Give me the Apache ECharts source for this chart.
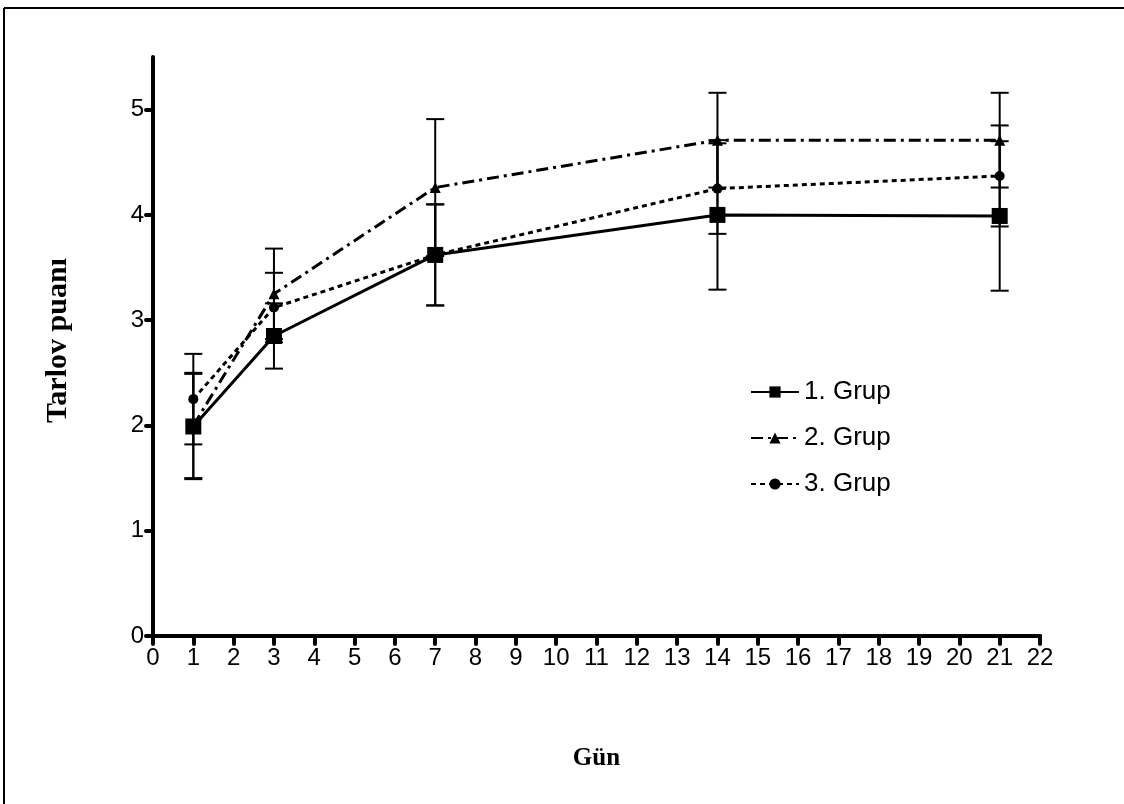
<!DOCTYPE html>
<html>
<head>
<meta charset="utf-8">
<script src="https://cdn.jsdelivr.net/npm/echarts@6/dist/echarts.min.js"></script>
<style>
    html, body { margin: 0; padding: 0; background: #fff; }
    #chart { width: 1124px; height: 804px; }
</style>
</head>
<body>
<div id="chart"></div>
<script>
    // günler
    const days = [1, 3, 7, 14, 21];
    const xTicks = [0, 1, 2, 3, 4, 5, 6, 7, 8, 9, 10, 11, 12, 13, 14, 15, 16, 17, 18, 19, 20, 21, 22];
    const yTicks = [0, 1, 2, 3, 4, 5];

    // ortalama ve hata değerleri
    const grup1 = [1.99, 2.85, 3.62, 4.00, 3.99];
    const grup1Err = [0.50, 0.31, 0.48, 0.71, 0.71];
    const grup2 = [2.00, 3.25, 4.26, 4.71, 4.71];
    const grup2Err = [0.50, 0.43, 0.65, 0.45, 0.45];
    const grup3 = [2.25, 3.12, 3.62, 4.25, 4.37];
    const grup3Err = [0.43, 0.33, 0.48, 0.43, 0.48];

    const names = ['1. Grup', '2. Grup', '3. Grup'];

    const toPoints = (vals) => days.map((d, i) => [d, vals[i]]);
    const toBars = (vals, errs) => days.map((d, i) => [d, vals[i] - errs[i], vals[i] + errs[i]]);

    // hata çubuğu
    const renderErr = (params, api) => {
        const top = api.coord([api.value(0), api.value(2)]);
        const bot = api.coord([api.value(0), api.value(1)]);
        const cap = 9;
        const style = { stroke: '#000', lineWidth: 2 };
        return {
            type: 'group',
            children: [
                { type: 'line', shape: { x1: top[0], y1: top[1], x2: bot[0], y2: bot[1] }, style },
                { type: 'line', shape: { x1: top[0] - cap, y1: top[1], x2: top[0] + cap, y2: top[1] }, style },
                { type: 'line', shape: { x1: bot[0] - cap, y1: bot[1], x2: bot[0] + cap, y2: bot[1] }, style }
            ]
        };
    };

    const errSeries = (vals, errs) => ({
        type: 'custom',
        renderItem: renderErr,
        data: toBars(vals, errs),
        encode: { x: 0, y: [1, 2] },
        silent: true,
        z: 1
    });

    const lineSeries = (name, vals, symbol, size, dash) => ({
        name,
        type: 'line',
        data: toPoints(vals),
        symbol,
        symbolSize: size,
        showAllSymbol: true,
        animation: false,
        itemStyle: { color: '#000' },
        lineStyle: { color: '#000', width: 3, type: dash },
        z: 3
    });

    const option = {
        backgroundColor: '#fff',
        animation: false,
        textStyle: { fontFamily: 'Liberation Sans', color: '#000' },
        grid: { left: 153, right: 84, top: 57, bottom: 168 },
        legend: {
            orient: 'vertical',
            left: 745,
            top: 374,
            itemWidth: 48,
            itemHeight: 14,
            itemGap: 20,
            data: names,
            textStyle: { fontSize: 26, color: '#000', fontFamily: 'Liberation Sans', lineHeight: 26 }
        },
        xAxis: {
            type: 'value',
            min: 0,
            max: 22,
            interval: 1,
            name: 'Gün',
            nameLocation: 'middle',
            nameGap: 110,
            nameTextStyle: { fontFamily: 'Liberation Serif', fontWeight: 'bold', fontSize: 25, color: '#000' },
            axisLine: { lineStyle: { color: '#000', width: 4 } },
            axisTick: { length: 8, lineStyle: { color: '#000', width: 4, cap: 'round' } },
            axisLabel: { fontSize: 24, color: '#000', margin: 10 },
            splitLine: { show: false }
        },
        yAxis: {
            type: 'value',
            min: 0,
            max: 5.5,
            interval: 1,
            name: 'Tarlov puanı',
            nameLocation: 'middle',
            nameGap: 80,
            nameRotate: 90,
            nameTextStyle: { fontFamily: 'Liberation Serif', fontWeight: 'bold', fontSize: 30, color: '#000', padding: [0, 0, 0, 12] },
            axisLine: { lineStyle: { color: '#000', width: 4, cap: 'round' } },
            axisTick: { length: 7, customValues: yTicks, lineStyle: { color: '#000', width: 4, cap: 'round' } },
            axisLabel: { fontSize: 24, color: '#000', margin: 9, customValues: yTicks },
            splitLine: { show: false }
        },
        graphic: [
            { type: 'line', shape: { x1: 4, y1: 8, x2: 4, y2: 804 }, style: { stroke: '#000', lineWidth: 2 } },
            { type: 'line', shape: { x1: 4, y1: 8, x2: 1124, y2: 8 }, style: { stroke: '#000', lineWidth: 2 } }
        ],
        series: [
            errSeries(grup1, grup1Err),
            errSeries(grup2, grup2Err),
            errSeries(grup3, grup3Err),
            lineSeries(names[0], grup1, 'rect', 16, 'solid'),
            lineSeries(names[1], grup2, 'triangle', 11, [12, 5, 3, 5]),
            lineSeries(names[2], grup3, 'circle', 10, [5, 4])
        ]
    };

    const chart = echarts.init(document.getElementById('chart'));
    chart.setOption(option);
</script>
</body>
</html>
